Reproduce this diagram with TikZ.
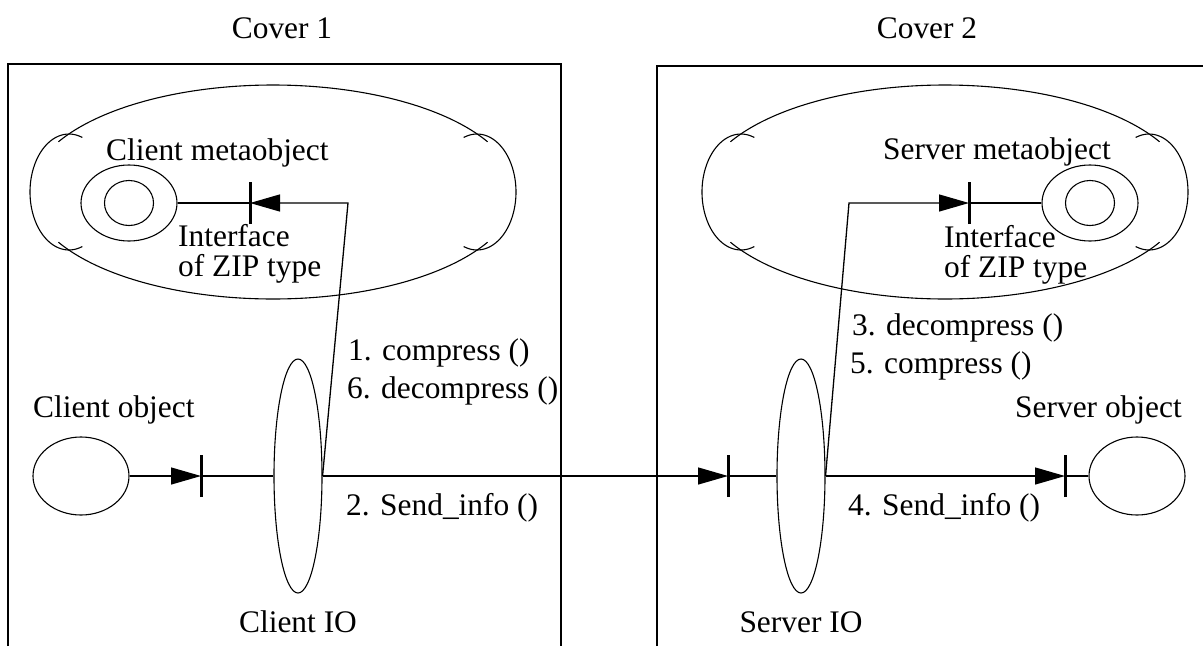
\documentclass[tikz,border=0pt]{standalone}
\usepackage{fontspec}
\setmainfont{Liberation Serif}
\usetikzlibrary{shapes.geometric,arrows.meta}
\newcommand\drawcloud[2]{%
  \draw[cloudline] plot[domain=28:152, samples=60, smooth] ({#1+243*cos(\x)},{#2-107*sin(\x)});
  \draw[cloudline] plot[domain=208:332, samples=60, smooth] ({#1+243*cos(\x)},{#2-107*sin(\x)});
  \draw[cloudline] plot[domain=-110:110, samples=50, smooth] ({#1+204+39*cos(\x)},{#2-58*sin(\x)});
  \draw[cloudline] plot[domain=70:290, samples=50, smooth] ({#1-204+39*cos(\x)},{#2-58*sin(\x)});
}
\begin{document}
\begin{tikzpicture}[x=1pt,y=-1pt,
  lbl/.style={inner sep=0pt, font=\fontsize{31.4}{32}\selectfont},
  oval/.style={draw, ellipse, inner sep=0pt, line width=1.1pt},
  wire/.style={line width=1.3pt},
  arr/.style={wire, -{Triangle[length=30pt,width=17pt]}},
  tickmark/.style={line width=3pt},
  boxline/.style={line width=1.6pt},
  cloudline/.style={line width=1.1pt}]
\useasboundingbox (0,0) rectangle (1203,646);

% covers
\draw[boxline] (8,646) -- (8,64) -- (561,64) -- (561,646);
\draw[boxline] (657,646) -- (657,66) -- (1203,66);
\node[lbl, anchor=base] (cov1) at (282,38) {Cover 1};
\node[lbl, anchor=base] (cov2) at (927,38) {Cover 2};

% metaobject clouds
\drawcloud{273}{192}
\drawcloud{945}{192}

% objects
\node[oval, minimum width=96pt, minimum height=78pt] (cobj) at (81,476) {};
\node[oval, minimum width=48pt, minimum height=234pt] (cio) at (298,476) {};
\node[oval, minimum width=48pt, minimum height=234pt] (sio) at (801,476) {};
\node[oval, minimum width=96pt, minimum height=78pt] (sobj) at (1137,476) {};
\node[oval, minimum width=96pt, minimum height=76pt] (cmo) at (129,203) {};
\node[oval, minimum width=49pt, minimum height=45pt] (cmi) at (129,203) {};
\node[oval, minimum width=96pt, minimum height=76pt] (smo) at (1090,203) {};
\node[oval, minimum width=49pt, minimum height=45pt] (smi) at (1090,203) {};

% interface points and corners
\coordinate (t1) at (201,476);
\coordinate (t2) at (728,476);
\coordinate (t3) at (1065,476);
\coordinate (t4) at (250,203);
\coordinate (t5) at (969,203);
\coordinate (c1) at (348,203);
\coordinate (c2) at (849,203);

% connectors
\draw[arr] (cobj.east) -- (t1);
\draw[wire] (t1) -- (cio.west);
\draw[arr] (cio.east) -- (t2);
\draw[wire] (t2) -- (sio.west);
\draw[arr] (sio.east) -- (t3);
\draw[wire] (t3) -- (sobj.west);
\draw[arr] (cio.east) -- (c1) -- (t4);
\draw[wire] (t4) -- (cmo.east);
\draw[arr] (sio.east) -- (c2) -- (t5);
\draw[wire] (t5) -- (smo.west);
\foreach \t in {t1,t2,t3,t4,t5}
  \draw[tickmark] ([yshift=-21pt]\t) -- ([yshift=21pt]\t);

% labels
\node[lbl, anchor=base west] (cmlab) at (106,160) {Client metaobject};
\node[lbl, anchor=base west] (cif1) at (178,246) {Interface};
\node[lbl, anchor=base west] (cif2) at (178,276) {of ZIP type};
\node[lbl, anchor=base west] (smlab) at (883,159) {Server metaobject};
\node[lbl, anchor=base west] (sif1) at (944,247) {Interface};
\node[lbl, anchor=base west] (sif2) at (944,277) {of ZIP type};
\node[lbl, anchor=base west] (m1) at (348,360) {1. compress ()};
\node[lbl, anchor=base west] (m6) at (347,398) {6. decompress ()};
\node[lbl, anchor=base west] (m3) at (852,335) {3. decompress ()};
\node[lbl, anchor=base west] (m5) at (850,373) {5. compress ()};
\node[lbl, anchor=base west] (cobjlab) at (33,417) {Client object};
\node[lbl, anchor=base west] (sobjlab) at (1015,417) {Server object};
\node[lbl, anchor=base west] (m2) at (346,515) {2. Send\_info ()};
\node[lbl, anchor=base west] (m4) at (848,515) {4. Send\_info ()};
\node[lbl, anchor=base] (ciolab) at (298,632) {Client IO};
\node[lbl, anchor=base] (siolab) at (801,632) {Server IO};
\end{tikzpicture}
\end{document}
